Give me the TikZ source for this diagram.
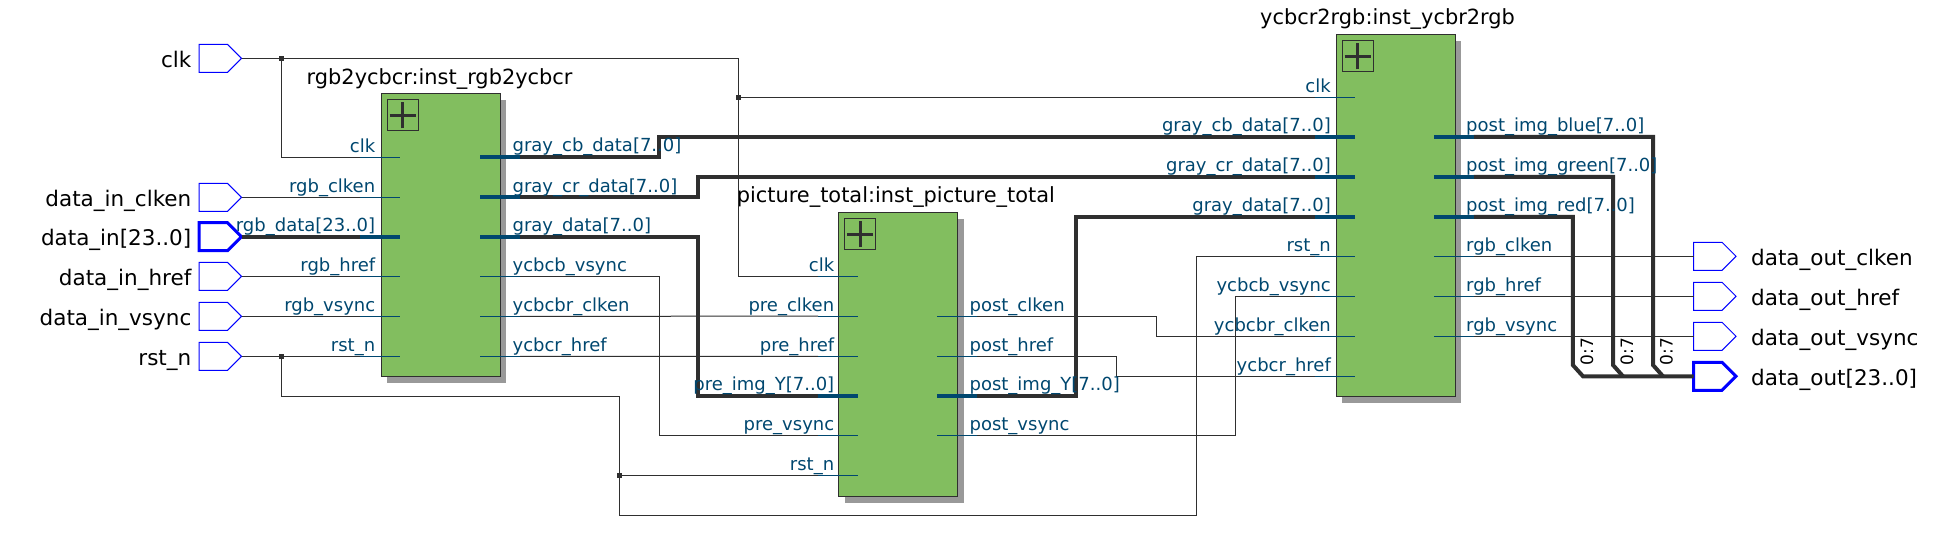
\documentclass[tikz,border=0pt]{standalone}
\usepackage{fontspec}
\setmainfont{DejaVu Sans}
\usetikzlibrary{positioning,shapes.symbols,shadows}

\definecolor{wirecol}{HTML}{2F2F2F}
\definecolor{portcol}{HTML}{00476F}
\definecolor{blockcol}{HTML}{82BE5F}
\definecolor{pincol}{HTML}{0000FF}

\tikzset{
  wire/.style={draw=wirecol,line width=1pt},
  bus/.style={draw=wirecol,line width=4pt},
  stub/.style={draw=portcol,line width=1pt},
  stubbus/.style={draw=portcol,line width=4pt},
  joint/.style={fill=wirecol,inner sep=0pt,minimum size=5pt},
  pinbox/.style={draw=pincol,line width=1pt,signal,signal to=east,signal pointer angle=90,anchor=west,
    minimum width=42.5pt,minimum height=28pt,inner sep=0pt,outer sep=0pt},
  pinbus/.style={pinbox,line width=3pt},
  pintext/.style={inner sep=0pt,font=\fontsize{21.5}{24}\selectfont,text height=20pt,text depth=2pt},
  porttext/.style={inner sep=0pt,text=portcol,font=\fontsize{18}{20}\selectfont},
  blocktitle/.style={inner sep=0pt,anchor=base west,font=\fontsize{20.9}{24}\selectfont},
  blockbox/.style={draw=wirecol,fill=blockcol,line width=1pt,anchor=north west,inner sep=0pt,
    minimum width=119pt,general shadow={shadow xshift=6pt,shadow yshift=-6.5pt,fill=black!40}},
  plusbox/.style={draw=wirecol,line width=1pt,anchor=north west,minimum size=31pt,inner sep=0pt},
  plusbar/.style={draw=wirecol,line width=3pt},
  splittext/.style={inner sep=0pt,rotate=90,font=\fontsize{17}{20}\selectfont}
}

\begin{document}
\begin{tikzpicture}[x=1pt,y=-1pt]
  \useasboundingbox (0,0) rectangle (1952,548);

  % Bloques
  \node[blockbox,minimum height=283pt] (blk_rgb) at (380.5,93.3) {};
  \node[blockbox,minimum height=283pt] (blk_pic) at (838,212.5) {};
  \node[blockbox,minimum height=362pt] (blk_ycb) at (1335.6,34.3) {};
  \node[blocktitle] (tit_rgb) at (306.5,85) {rgb2ycbcr:inst\_rgb2ycbcr};
  \node[blocktitle] (tit_pic) at (736.6,203) {picture\_total:inst\_picture\_total};
  \node[blocktitle] (tit_ycb) at (1260,25) {ycbcr2rgb:inst\_ycbr2rgb};

  % Simbolo + de cada bloque
  \foreach \b in {rgb,pic,ycb} {
    \node[plusbox] (plus_\b) at ([shift={(6,6)}]blk_\b.north west) {};
    \draw[plusbar] ([xshift=-13pt]plus_\b.center) -- ([xshift=13pt]plus_\b.center);
    \draw[plusbar] ([yshift=-13pt]plus_\b.center) -- ([yshift=13pt]plus_\b.center);
  }

  % Pines de entrada
  \foreach \n/\ypos/\txt/\st in {clk/58.3/clk/pinbox, ien/197.3/data\_in\_clken/pinbox,
      idat/236.7/data\_in[23..0]/pinbus, ihr/276.3/data\_in\_href/pinbox,
      ivs/316.3/data\_in\_vsync/pinbox, rst/356.3/rst\_n/pinbox} {
    \node[\st] (pin_\n) at (199,\ypos) {};
    \node[pintext,left=7.5pt of pin_\n] (txt_\n) {\txt};
  }

  % Pines de salida
  \foreach \n/\ypos/\txt/\st in {oen/256.3/data\_out\_clken/pinbox, ohr/296.3/data\_out\_href/pinbox,
      ovs/336.3/data\_out\_vsync/pinbox, odat/376.3/data\_out[23..0]/pinbus} {
    \node[\st] (pin_\n) at (1693.5,\ypos) {};
    \node[pintext,right=15pt of pin_\n] (txt_\n) {\txt};
  }

  % Extremos de los puertos
  \foreach \n/\ypos in {clk/157.3,en/197.3,dat/236.7,hr/276.3,vs/316.3,rst/356.3} {
    \coordinate (ia_\n) at (360,\ypos);
  }
  \foreach \n/\ypos in {cb/156.9,cr/197.3,gr/236.7,vs/276.3,en/316.3,hr/356.3} {
    \coordinate (oa_\n) at (520,\ypos);
  }
  \foreach \n/\ypos in {clk/276.2,en/316.2,hr/356.4,dat/396,vs/435.3,rst/475.3} {
    \coordinate (ib_\n) at (818,\ypos);
  }
  \foreach \n/\ypos in {en/316.2,hr/356.4,dat/396,vs/435.3} {
    \coordinate (ob_\n) at (977,\ypos);
  }
  \foreach \n/\ypos in {clk/97.3,cb/136.9,cr/177,gr/217,rst/256.3,vs/296.3,en/336.3,hr/376.3} {
    \coordinate (ic_\n) at (1315,\ypos);
  }
  \foreach \n/\ypos in {bl/136.9,gn/177,rd/217,en/256.3,hr/296.3,vs/336.3} {
    \coordinate (oc_\n) at (1473.6,\ypos);
  }

  % Uniones
  \node[joint] (j_clk) at (281.6,58.3) {};
  \node[joint] (j_clk2) at (738.5,97.3) {};
  \node[joint] (j_rst) at (281.6,356.3) {};
  \node[joint] (j_rst2) at (619.5,475.3) {};

  % Senales finas
  \draw[wire] (pin_clk.east) -- (j_clk) -| (j_clk2) |- (ib_clk);
  \draw[wire] (j_clk) |- (ia_clk);
  \draw[wire] (j_clk2) -- (ic_clk);
  \draw[wire] (pin_ien.east) -- (ia_en);
  \draw[wire] (pin_ihr.east) -- (ia_hr);
  \draw[wire] (pin_ivs.east) -- (ia_vs);
  \draw[wire] (pin_rst.east) -- (j_rst) -- (ia_rst);
  \draw[wire] (j_rst) |- (619.5,396.3) -- (j_rst2) -- (ib_rst);
  \draw[wire] (j_rst2) |- (1196.4,515.3) |- (ic_rst);
  \draw[wire] (oa_vs) -| (659.4,435.3) -- (ib_vs);
  \draw[wire] (oa_en) -- (ib_en);
  \draw[wire] (oa_hr) -- (ib_hr);
  \draw[wire] (ob_en) -| (1156.4,336.3) -- (ic_en);
  \draw[wire] (ob_hr) -| (1116.4,376.3) -- (ic_hr);
  \draw[wire] (ob_vs) -| (1235.5,296.3) -- (ic_vs);
  \draw[wire] (oc_en) -- (pin_oen.west);
  \draw[wire] (oc_hr) -- (pin_ohr.west);
  \draw[wire] (oc_vs) -- (pin_ovs.west);

  % Buses
  \coordinate (bus_rd) at (1583,376.3);
  \coordinate (bus_gn) at (1623,376.3);
  \coordinate (bus_bl) at (1663,376.3);
  \draw[bus] (pin_idat.east) -- (ia_dat);
  \draw[bus] (oa_cb) -| (659.4,136.9) -- (ic_cb);
  \draw[bus] (oa_cr) -| (698,177) -- (ic_cr);
  \draw[bus] (oa_gr) -| (698,396) -- (ib_dat);
  \draw[bus] (ob_dat) -| (1076,217) -- (ic_gr);
  \draw[bus] (oc_rd) -| (1572.8,365) -- (bus_rd) -- (pin_odat.west);
  \draw[bus] (oc_gn) -| (1613,365) -- (bus_gn);
  \draw[bus] (oc_bl) -| (1653,365) -- (bus_bl);

  \node[splittext] (split_rd) at (1586.8,351.7) {0:7};
  \node[splittext] (split_gn) at (1626.8,351.7) {0:7};
  \node[splittext] (split_bl) at (1666.5,351.7) {0:7};

  % Puertos y etiquetas
  \foreach \s/\n/\st/\txt in {ia/clk/stub/clk, ia/en/stub/rgb\_clken, ia/dat/stubbus/rgb\_data[23..0],
      ia/hr/stub/rgb\_href, ia/vs/stub/rgb\_vsync, ia/rst/stub/rst\_n} {
    \draw[\st] (\s_\n) -- ++(40,0);
    \node[porttext,anchor=base east] (lbl_\s_\n) at ([shift={(15.4,-5.2)}]\s_\n) {\txt};
  }
  \foreach \s/\n/\st/\txt in {ib/clk/stub/clk, ib/en/stub/pre\_clken, ib/hr/stub/pre\_href,
      ib/dat/stubbus/pre\_img\_Y[7..0], ib/vs/stub/pre\_vsync, ib/rst/stub/rst\_n} {
    \draw[\st] (\s_\n) -- ++(40,0);
    \node[porttext,anchor=base east] (lbl_\s_\n) at ([shift={(16.4,-5.2)}]\s_\n) {\txt};
  }
  \foreach \s/\n/\st/\txt in {ic/clk/stub/clk, ic/cb/stubbus/gray\_cb\_data[7..0], ic/cr/stubbus/gray\_cr\_data[7..0],
      ic/gr/stubbus/gray\_data[7..0], ic/rst/stub/rst\_n, ic/vs/stub/ycbcb\_vsync,
      ic/en/stub/ycbcbr\_clken, ic/hr/stub/ycbcr\_href} {
    \draw[\st] (\s_\n) -- ++(40,0);
    \node[porttext,anchor=base east] (lbl_\s_\n) at ([shift={(16,-5.2)}]\s_\n) {\txt};
  }
  \foreach \s/\n/\st/\txt in {oa/cb/stubbus/gray\_cb\_data[7..0], oa/cr/stubbus/gray\_cr\_data[7..0],
      oa/gr/stubbus/gray\_data[7..0], oa/vs/stub/ycbcb\_vsync, oa/en/stub/ycbcbr\_clken, oa/hr/stub/ycbcr\_href,
      ob/en/stub/post\_clken, ob/hr/stub/post\_href, ob/dat/stubbus/post\_img\_Y[7..0], ob/vs/stub/post\_vsync,
      oc/bl/stubbus/post\_img\_blue[7..0], oc/gn/stubbus/post\_img\_green[7..0], oc/rd/stubbus/post\_img\_red[7..0],
      oc/en/stub/rgb\_clken, oc/hr/stub/rgb\_href, oc/vs/stub/rgb\_vsync} {
    \draw[\st] (\s_\n) -- ++(-40,0);
    \node[porttext,anchor=base west] (lbl_\s_\n) at ([shift={(-7.6,-5.2)}]\s_\n) {\txt};
  }
\end{tikzpicture}
\end{document}
